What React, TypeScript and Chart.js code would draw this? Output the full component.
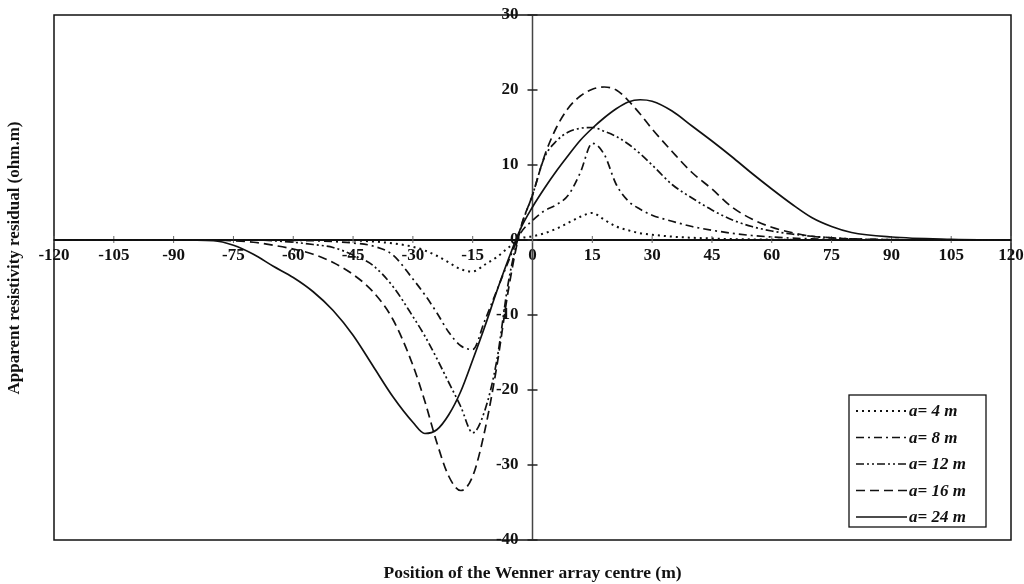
import React, { useEffect, useRef } from "react";
import { Chart, registerables } from "chart.js";

Chart.register(...registerables);

// Position of the Wenner array centre (m)
const positions = [
  -120, -105, -90, -80, -75, -70, -65, -60, -55, -50,
  -45, -40, -35, -30, -27, -24, -21, -18, -15, -12,
  -9, -6, -3, 0, 3, 6, 9, 12, 15, 18,
  21, 24, 27, 30, 35, 40, 45, 50, 55, 60,
  65, 70, 75, 80, 90, 105, 120,
];

// Apparent resistivity residual (ohm.m) for each electrode spacing a
const residualA4 = [
  0, 0, 0, 0, 0, 0, 0, 0, 0, 0,
  -0.05, -0.2, -0.45, -0.9, -1.4, -2.1, -3.0, -3.9, -4.2, -3.3,
  -2.3, -1.0, 0.2, 0.5, 0.9, 1.5, 2.3, 3.1, 3.6, 2.7,
  1.8, 1.3, 0.9, 0.7, 0.45, 0.3, 0.2, 0.12, 0.08, 0.05,
  0.02, 0, 0, 0, 0, 0, 0,
];
const residualA8 = [
  0, 0, 0, 0, 0, 0, 0, -0.05, -0.1, -0.2,
  -0.4, -0.8, -2.0, -5.2, -7.3, -9.7, -12.3, -14.1, -14.6, -10.8,
  -6.8, -2.8, 0.9, 2.6, 3.9, 4.7, 6.0, 9.0, 12.9, 11.4,
  7.4, 5.2, 4.1, 3.3, 2.5, 1.8, 1.3, 0.9, 0.6, 0.4,
  0.25, 0.15, 0.1, 0.05, 0, 0, 0,
];
const residualA12 = [
  0, 0, 0, 0, 0, 0, -0.1, -0.3, -0.6, -1.0,
  -2.0, -3.4, -6.2, -10.2, -12.8, -15.8, -19.0, -22.2, -25.7, -22.8,
  -16.2, -5.5, 1.5, 6.0, 11.0, 13.2, 14.4, 14.9, 15.0, 14.5,
  13.8, 12.8, 11.5, 10.0, 7.4, 5.6, 4.0, 2.7, 1.8, 1.2,
  0.8, 0.5, 0.3, 0.15, 0.05, 0, 0,
];
const residualA16 = [
  0, 0, 0, 0, -0.1, -0.3, -0.7, -1.2, -1.9, -3.0,
  -4.6, -6.9, -10.6, -16.7, -21.5, -27.0, -31.5, -33.4, -31.5, -25.5,
  -17.0, -6.5, 1.5, 6.0, 11.2, 15.0, 17.6, 19.2, 20.1, 20.4,
  20.0, 18.6, 16.8, 14.8, 11.8, 9.0, 6.8, 4.4, 2.8, 1.7,
  1.0, 0.5, 0.3, 0.15, 0.05, 0, 0,
];
const residualA24 = [
  0, 0, 0, -0.1, -0.7, -1.9, -3.5, -5.0, -6.9, -9.4,
  -12.7, -16.8, -20.9, -24.3, -25.8, -25.3, -23.3, -20.2, -16.0, -11.6,
  -6.9, -2.5, 1.5, 4.4, 6.9, 9.2, 11.3, 13.3, 14.9, 16.3,
  17.5, 18.4, 18.7, 18.5, 17.2, 15.2, 13.2, 11.1, 8.9, 6.8,
  4.8, 3.0, 1.8, 1.0, 0.4, 0.1, 0,
];

const seriesLabels = ["a= 4 m", "a= 8 m", "a= 12 m", "a= 16 m", "a= 24 m"];
const xTickValues = [-120, -105, -90, -75, -60, -45, -30, -15, 0, 15, 30, 45, 60, 75, 90, 105, 120];
const yTickValues = [-40, -30, -20, -10, 0, 10, 20, 30];

const xTitle = "Position of the Wenner array centre (m)";
const yTitle = "Apparent resistivity residual (ohm.m)";

const SERIF = "'Liberation Serif', 'Times New Roman', serif";
const INK = "#111";

// dotted, dash-dot, dash-dot-dot, dashed, solid
const linePatterns: number[][] = [
  [2, 4],
  [8, 4, 2, 4],
  [8, 3, 2, 3, 2, 3],
  [9, 5],
  [],
];

// the y tick labels sit a little to the left of the vertical axis line
const Y_LABEL_ANCHOR = -3.5;

const decorations = {
  id: "decorations",
  beforeDatasetsDraw(chart: any) {
    const { ctx, chartArea } = chart;
    const xs = chart.scales.x;
    const ys = chart.scales.y;
    ctx.save();
    // plot frame
    ctx.strokeStyle = INK;
    ctx.lineWidth = 1.5;
    ctx.strokeRect(chartArea.left, chartArea.top, chartArea.right - chartArea.left, chartArea.bottom - chartArea.top);
    const x0 = xs.getPixelForValue(0);
    const y0 = ys.getPixelForValue(0);
    // vertical axis through x = 0
    ctx.strokeStyle = "#444";
    ctx.lineWidth = 1.5;
    ctx.beginPath();
    ctx.moveTo(x0, chartArea.top);
    ctx.lineTo(x0, chartArea.bottom);
    ctx.stroke();
    // tick marks crossing the centred axes
    ctx.strokeStyle = "#222";
    for (const v of yTickValues) {
      const py = ys.getPixelForValue(v);
      ctx.beginPath();
      ctx.moveTo(x0 - 5, py);
      ctx.lineTo(x0 + 5, py);
      ctx.stroke();
    }
    ctx.lineWidth = 1;
    ctx.strokeStyle = "#666";
    for (const v of xTickValues) {
      const px = xs.getPixelForValue(v);
      ctx.beginPath();
      ctx.moveTo(px, y0 - 4);
      ctx.lineTo(px, y0 + 3);
      ctx.stroke();
    }
    ctx.restore();
  },
  afterDatasetsDraw(chart: any) {
    const { ctx, chartArea } = chart;
    ctx.save();
    // legend box
    const left = chartArea.right - 162;
    const right = chartArea.right - 25;
    const top = chartArea.bottom - 145;
    const bottom = chartArea.bottom - 13;
    ctx.fillStyle = "#fff";
    ctx.fillRect(left, top, right - left, bottom - top);
    ctx.strokeStyle = INK;
    ctx.lineWidth = 1.3;
    ctx.strokeRect(left, top, right - left, bottom - top);
    chart.data.datasets.forEach((ds: any, i: number) => {
      const rowY = top + 16 + i * 26.5;
      ctx.beginPath();
      ctx.setLineDash(ds.borderDash || []);
      ctx.lineWidth = ds.borderWidth;
      ctx.strokeStyle = ds.borderColor;
      ctx.moveTo(left + 7, rowY);
      ctx.lineTo(left + 58, rowY);
      ctx.stroke();
      ctx.setLineDash([]);
      ctx.fillStyle = INK;
      ctx.font = `italic bold 17px ${SERIF}`;
      ctx.textAlign = "left";
      ctx.textBaseline = "middle";
      ctx.fillText(ds.label, left + 60, rowY + 1);
    });
    // axis titles
    ctx.fillStyle = INK;
    ctx.font = `bold 17.5px ${SERIF}`;
    ctx.textAlign = "center";
    ctx.textBaseline = "middle";
    ctx.fillText(xTitle, (chartArea.left + chartArea.right) / 2, 573);
    ctx.translate(15, 258);
    ctx.rotate(-Math.PI / 2);
    ctx.font = `bold 17px ${SERIF}`;
    ctx.fillText(yTitle, 0, 0);
    ctx.restore();
  },
};

const noOverflowPadding = (scale: any) => {
  scale.paddingLeft = 0;
  scale.paddingRight = 0;
  scale.paddingTop = 0;
  scale.paddingBottom = 0;
};

export default function App() {
  const canvasRef = useRef<HTMLCanvasElement>(null);

  useEffect(() => {
    const series = [residualA4, residualA8, residualA12, residualA16, residualA24];
    const tickFont = { family: SERIF, size: 17, weight: "bold" as const };
    const chart = new Chart(canvasRef.current as HTMLCanvasElement, {
      type: "line",
      data: {
        datasets: series.map((vals, i) => ({
          label: seriesLabels[i],
          data: positions.map((x, k) => ({ x, y: vals[k] })),
          borderColor: INK,
          borderWidth: i === 0 ? 2 : 1.7,
          borderDash: linePatterns[i],
          pointRadius: 0,
          cubicInterpolationMode: "monotone" as const,
          fill: false,
        })),
      },
      options: {
        animation: false,
        responsive: true,
        maintainAspectRatio: false,
        devicePixelRatio: 1,
        layout: { padding: { left: 54, right: 13, top: 15, bottom: 44 } },
        plugins: {
          legend: { display: false },
          tooltip: { enabled: false },
        },
        scales: {
          x: {
            type: "linear",
            min: -120,
            max: 120,
            position: { y: 0 } as any,
            afterBuildTicks: (scale: any) => {
              scale.ticks = xTickValues.map((value) => ({ value }));
            },
            afterFit: noOverflowPadding,
            ticks: { font: tickFont, color: INK, padding: 5, maxRotation: 0, autoSkip: false },
            grid: { drawOnChartArea: false, drawTicks: false },
            border: { display: true, color: INK, width: 2 },
          },
          y: {
            type: "linear",
            min: -40,
            max: 30,
            position: { x: Y_LABEL_ANCHOR } as any,
            afterBuildTicks: (scale: any) => {
              scale.ticks = yTickValues.map((value) => ({ value }));
            },
            afterFit: noOverflowPadding,
            ticks: { font: tickFont, color: INK, autoSkip: false },
            grid: { drawOnChartArea: false, drawTicks: false },
            border: { display: false },
          },
        },
      },
      plugins: [decorations],
    });
    return () => chart.destroy();
  }, []);

  return (
    <div style={{ position: "fixed", left: 0, top: 0, width: 1024, height: 584, background: "#fff" }}>
      <canvas ref={canvasRef} />
    </div>
  );
}
